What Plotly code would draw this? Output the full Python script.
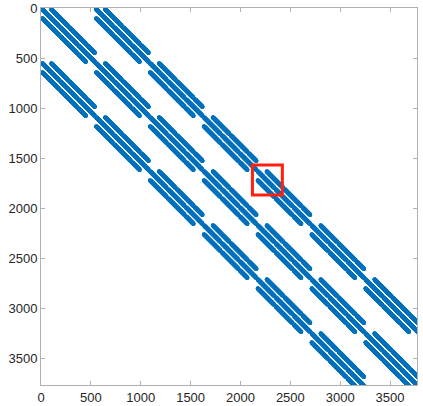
import numpy as np
import plotly.graph_objects as go

# block structure of the matrix (sparsity pattern only)
n_blocks = 7
block_size = 540
block_offsets = [-1, 0, 1]          # block tridiagonal
line_offsets = [-90, 0, 90]         # diagonals inside each block
dash_period = 180                   # each diagonal is broken into dashes
dash_gap = 14

tick_vals = [0, 500, 1000, 1500, 2000, 2500, 3000, 3500]
box_x = [2120, 2420]
box_y = [1570, 1870]

outer = np.zeros((n_blocks, n_blocks), dtype=bool)
for off in block_offsets:
    for i in range(n_blocks):
        if 0 <= i + off < n_blocks:
            outer[i, i + off] = True

inner = np.zeros((block_size, block_size), dtype=bool)
for off in line_offsets:
    for r in range(block_size):
        c = r + off
        if 0 <= c < block_size and (min(r, c) % dash_period) >= dash_gap:
            inner[r, c] = True

A = np.kron(outer, inner)
rows, cols = np.nonzero(A)
N = A.shape[0]

fig = go.Figure()
fig.add_trace(go.Scatter(
    x=cols, y=rows, mode="markers",
    marker=dict(size=4.2, color="#0072BD", line=dict(width=0)),
    hoverinfo="skip", showlegend=False,
))

fig.add_shape(type="rect", xref="x", yref="y",
              x0=box_x[0], x1=box_x[1], y0=box_y[0], y1=box_y[1],
              line=dict(color="#FF2010", width=3))

axis_style = dict(
    tickvals=tick_vals, ticks="inside", ticklen=4, tickcolor="#b0b0b0",
    showline=True, linecolor="#b0b0b0", linewidth=1, mirror="allticks",
    showgrid=False, zeroline=False, automargin=False,
    tickfont=dict(family="Liberation Sans, Arial", size=13, color="#262626"),
)
fig.update_xaxes(range=[0, N - 10], **axis_style)
fig.update_yaxes(range=[N - 10, 0], **axis_style)
fig.update_layout(
    width=423, height=406,
    margin=dict(l=41, r=6, t=8, b=21, pad=0),
    plot_bgcolor="white", paper_bgcolor="white",
)
fig.write_html("out.html", config={"displayModeBar": False},
               post_script="document.body.style.margin='0';")
